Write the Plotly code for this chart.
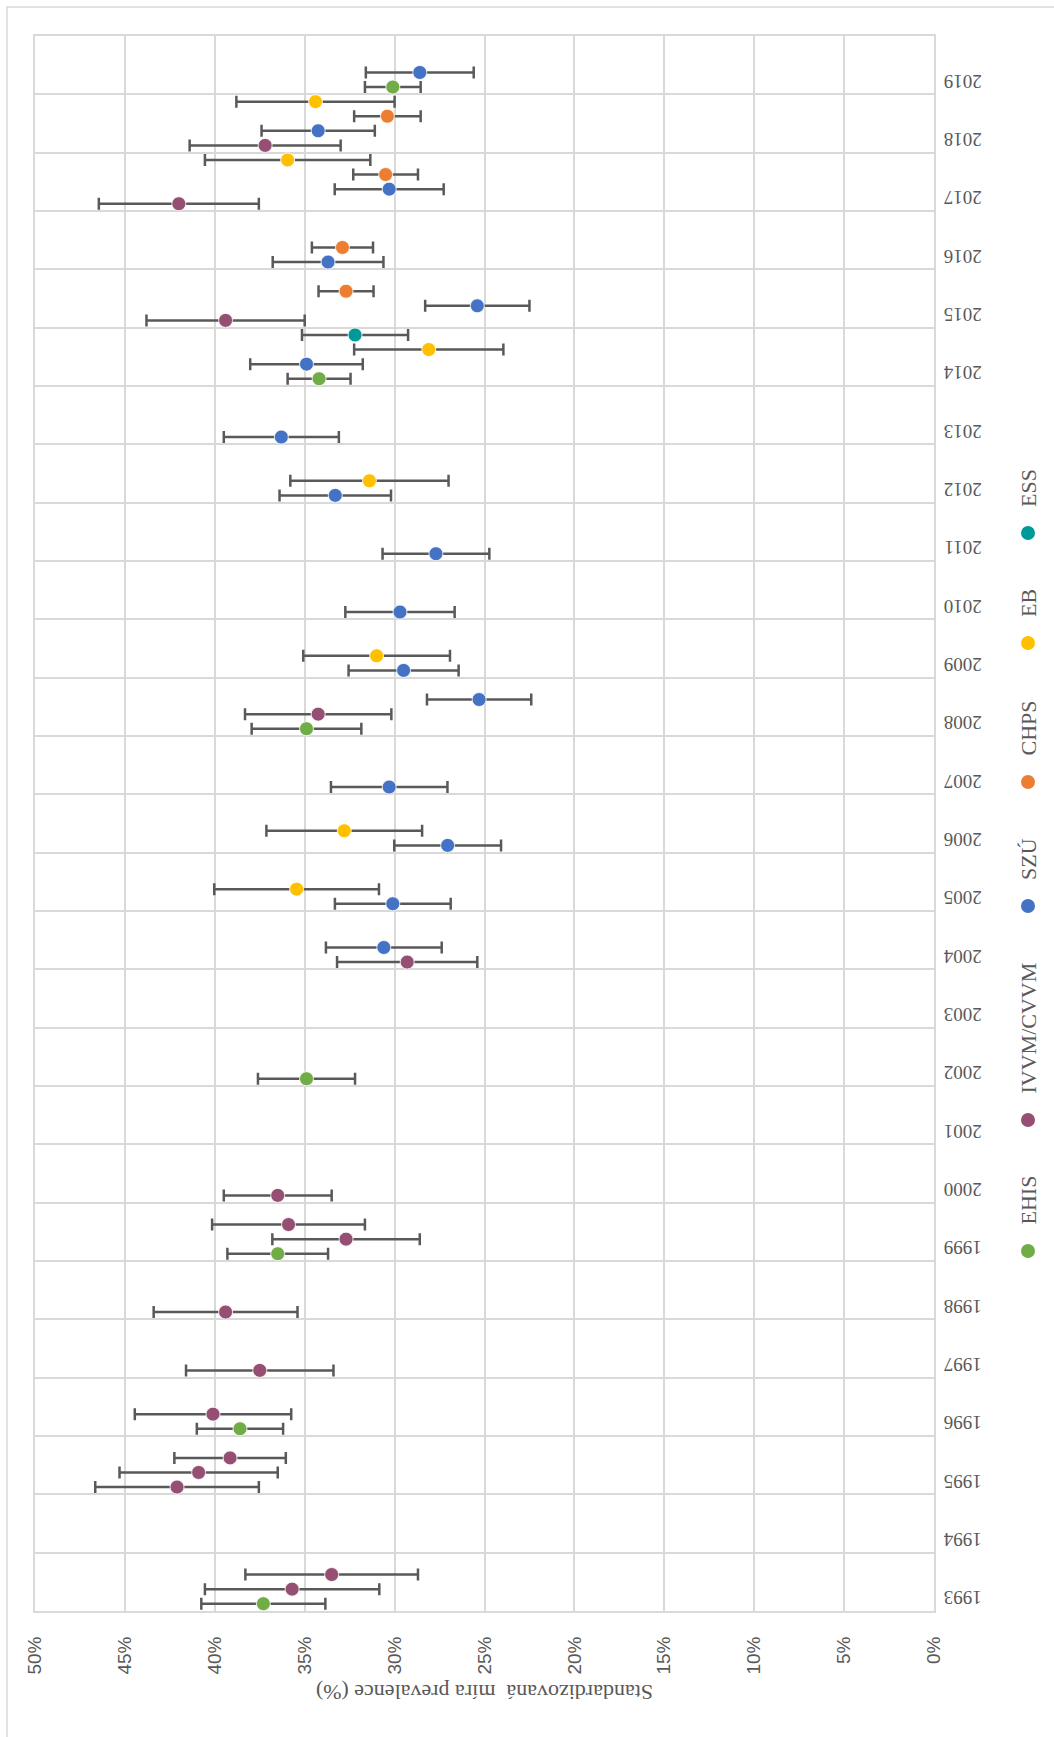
import plotly.graph_objects as go

# ---- data: survey period (year, quarter slot) vs. standardised prevalence (%) with CI half-width ----
YEARS = list(range(1993, 2020))

EHIS_POS = [2018.625, 2013.625, 2007.625, 2001.625, 1998.625, 1995.625, 1992.625]
EHIS_VAL = [30.1, 34.2, 34.9, 34.9, 36.5, 38.6, 37.3]
EHIS_ERR = [1.55, 1.75, 3.05, 2.7, 2.8, 2.4, 3.45]

IVVM_POS = [2017.625, 2016.625, 2014.625, 2007.875, 2003.625, 1999.625, 1999.125, 1998.875,
            1997.625, 1996.625, 1995.875, 1995.125, 1994.875, 1994.625, 1993.125, 1992.875]
IVVM_VAL = [37.2, 42.0, 39.4, 34.25, 29.3, 36.5, 35.9, 32.7,
            39.4, 37.5, 40.1, 39.15, 40.9, 42.1, 33.5, 35.7]
IVVM_ERR = [4.2, 4.45, 4.4, 4.07, 3.9, 3.0, 4.25, 4.1,
            4.0, 4.1, 4.35, 3.1, 4.4, 4.55, 4.8, 4.85]

SZU_POS = [2018.875, 2017.875, 2016.875, 2015.625, 2014.875, 2013.875, 2012.625, 2011.625,
           2010.625, 2009.625, 2008.625, 2008.125, 2006.625, 2005.625, 2004.625, 2003.875]
SZU_VAL = [28.6, 34.25, 30.3, 33.7, 25.4, 34.9, 36.3, 33.3,
           27.7, 29.7, 29.5, 25.3, 30.3, 27.05, 30.1, 30.6]
SZU_ERR = [3.0, 3.15, 3.03, 3.08, 2.9, 3.13, 3.2, 3.1,
           2.97, 3.04, 3.06, 2.9, 3.24, 2.97, 3.22, 3.22]

CHPS_POS = [2018.125, 2017.125, 2015.875, 2015.125]
CHPS_VAL = [30.4, 30.5, 32.9, 32.7]
CHPS_ERR = [1.85, 1.8, 1.7, 1.53]

EB_POS = [2018.375, 2017.375, 2014.125, 2011.875, 2008.875, 2005.875, 2004.875]
EB_VAL = [34.4, 35.95, 28.1, 31.4, 31.0, 32.8, 35.45]
EB_ERR = [4.4, 4.6, 4.15, 4.4, 4.08, 4.33, 4.58]

ESS_POS = [2014.375]
ESS_VAL = [32.2]
ESS_ERR = [2.95]

SERIES = [
    ("EHIS", "#70AD47", EHIS_POS, EHIS_VAL, EHIS_ERR),
    ("IVVM/CVVM", "#954F72", IVVM_POS, IVVM_VAL, IVVM_ERR),
    ("SZÚ", "#4472C4", SZU_POS, SZU_VAL, SZU_ERR),
    ("CHPS", "#ED7D31", CHPS_POS, CHPS_VAL, CHPS_ERR),
    ("EB", "#FFC000", EB_POS, EB_VAL, EB_ERR),
    ("ESS", "#009999", ESS_POS, ESS_VAL, ESS_ERR),
]

AXIS_TITLE = "Standardizovaná\u00a0 míra prevalence (%)"

# ---- page geometry (pixels) ----
W, H = 1054, 1737
ML, MR, MT, MB = 35, 120, 36, 126
PW = W - ML - MR
PH = H - MT - MB


def px_x(x):
    return (x - ML) / PW


def px_y(y):
    return (H - MB - y) / PH


GRID = "#d9d9d9"
TEXT = "#595959"
SERIF = "Liberation Serif, Times New Roman, serif"
SANS = "Liberation Sans, Arial, sans-serif"

# year labels sit on the first quarter slot of each year band
LABEL_SLOT = -0.375

fig = go.Figure()

for name, color, pos, val, err in SERIES:
    fig.add_trace(go.Scatter(
        x=val, y=pos, mode="markers", name=name, showlegend=False,
        marker=dict(size=14, color=color, line=dict(width=0.8, color="white")),
        error_x=dict(type="data", array=err, symmetric=True,
                     color=TEXT, thickness=2.5, width=6),
    ))

# legend drawn vertically along the right edge, read bottom-to-top
LEGEND_X = 1028
LEGEND_Y = {"EHIS": 1251, "IVVM/CVVM": 1120, "SZÚ": 906, "CHPS": 782, "EB": 643, "ESS": 533}

shapes = [
    # outer chart frame
    dict(type="rect", xref="paper", yref="paper",
         x0=px_x(7), x1=px_x(1120), y0=px_y(1800), y1=px_y(7),
         line=dict(color=GRID, width=1.5), fillcolor="rgba(0,0,0,0)", layer="below"),
]
annotations = [
    dict(text=AXIS_TITLE, xref="paper", yref="paper", x=0.5, y=px_y(1693),
         textangle=180, showarrow=False, xanchor="center", yanchor="middle",
         font=dict(family=SERIF, size=22, color=TEXT)),
]
for name, color, *_ in SERIES:
    my = LEGEND_Y[name]
    shapes.append(dict(type="circle", xref="paper", yref="paper",
                       xsizemode="pixel", ysizemode="pixel",
                       xanchor=px_x(LEGEND_X), yanchor=px_y(my),
                       x0=-7, x1=7, y0=-7, y1=7,
                       fillcolor=color, line=dict(width=0)))
    annotations.append(dict(text=name, xref="paper", yref="paper",
                            x=px_x(LEGEND_X), y=px_y(my - 24),
                            textangle=-90, showarrow=False,
                            xanchor="center", yanchor="bottom",
                            font=dict(family=SERIF, size=22, color=TEXT)))

fig.update_layout(
    width=W, height=H, autosize=False,
    margin=dict(l=ML, r=MR, t=MT, b=MB, pad=0),
    paper_bgcolor="white", plot_bgcolor="white",
    shapes=shapes, annotations=annotations,
    xaxis=dict(
        range=[50, 0], tick0=0, dtick=5, ticksuffix="%", tickangle=-90,
        showgrid=True, gridcolor=GRID, gridwidth=2,
        zeroline=True, zerolinecolor="#d0d0d0", zerolinewidth=2,
        showline=True, linecolor=GRID, linewidth=2, mirror=True,
        ticks="", ticklabelstandoff=16,
        tickfont=dict(family=SANS, size=19, color=TEXT),
    ),
    yaxis=dict(
        range=[1992.5, 2019.5], side="right",
        tickmode="array", tickvals=[y + LABEL_SLOT for y in YEARS],
        ticktext=[str(y) for y in YEARS], tickangle=180,
        showgrid=False, zeroline=False, ticks="",
        minor=dict(tick0=0.5, dtick=1, showgrid=True, gridcolor=GRID, gridwidth=2, ticks=""),
        showline=True, linecolor=GRID, linewidth=2, mirror=True,
        ticklabelstandoff=42,
        tickfont=dict(family=SERIF, size=19, color=TEXT),
    ),
)

fig.write_html("out.html")
